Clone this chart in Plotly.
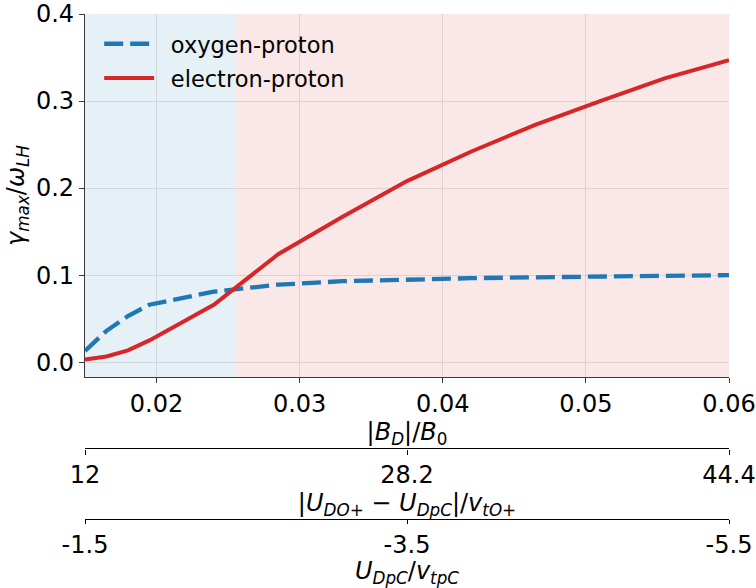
import plotly.graph_objects as go

# ---- data ----
bd_ratio = [0.015, 0.0165, 0.018, 0.0195, 0.024, 0.0285, 0.033, 0.0375,
            0.042, 0.0465, 0.051, 0.0555, 0.06]
oxygen_proton = [0.013, 0.036, 0.053, 0.066, 0.081, 0.089, 0.093, 0.095,
                 0.0965, 0.0975, 0.098, 0.099, 0.100]
electron_proton = [0.003, 0.0065, 0.0135, 0.025, 0.066, 0.124, 0.167, 0.208,
                   0.242, 0.273, 0.300, 0.326, 0.347]
series_names = ["oxygen-proton", "electron-proton"]

x_ticks = [0.02, 0.03, 0.04, 0.05, 0.06]
x_ticklabels = ["0.02", "0.03", "0.04", "0.05", "0.06"]
y_ticks = [0.0, 0.1, 0.2, 0.3, 0.4]
y_ticklabels = ["0.0", "0.1", "0.2", "0.3", "0.4"]

du_ticks = [12, 28.2, 44.4]
du_ticklabels = ["12", "28.2", "44.4"]
udp_ticks = [-1.5, -3.5, -5.5]
udp_ticklabels = ["-1.5", "-3.5", "-5.5"]

x_range = [0.015, 0.06]
y_range = [-0.017, 0.4]
regime_boundary = 0.02555

FONT = "DejaVu Sans"
FS = 24
FS_LEG = 22.5
EPS = 1e-6  # keeps the end ticks inside the ranges
LEG_PAD = "\u00a0\u2009"  # small gap between legend sample and text

fig = go.Figure()

fig.add_trace(go.Scatter(
    x=bd_ratio, y=oxygen_proton, mode="lines", name=LEG_PAD + series_names[0],
    line=dict(color="#1f77b4", width=4.3, dash="19px,7px"),
    legendgroup="a",
))
fig.add_trace(go.Scatter(
    x=bd_ratio, y=electron_proton, mode="lines", name=LEG_PAD + series_names[1],
    line=dict(color="#d62728", width=4),
    legendgroup="b",
))
# carriers for the secondary axes
fig.add_trace(go.Scatter(x=du_ticks, y=[None] * len(du_ticks), xaxis="x2", yaxis="y",
                         mode="lines", showlegend=False, hoverinfo="skip"))
fig.add_trace(go.Scatter(x=udp_ticks, y=[None] * len(udp_ticks), xaxis="x3", yaxis="y",
                         mode="lines", showlegend=False, hoverinfo="skip"))

# shaded regimes
fig.add_shape(type="rect", xref="x", yref="y domain", x0=x_range[0], x1=regime_boundary,
              y0=0, y1=1, fillcolor="rgba(31,119,180,0.11)", line_width=0, layer="below")
fig.add_shape(type="rect", xref="x", yref="y domain", x0=regime_boundary, x1=x_range[1],
              y0=0, y1=1, fillcolor="rgba(214,39,40,0.11)", line_width=0, layer="below")

H = 588
T = 10
PH = H - T


def ypos(px):
    return (H - px) / PH


axis_common = dict(
    showline=True, linecolor="#3a3a3a", linewidth=1.3,
    ticks="outside", ticklen=5, tickwidth=1.3, tickcolor="#3a3a3a",
    tickfont=dict(family=FONT, size=FS, color="black"),
    zeroline=False, ticklabeloverflow="allow",
)

fig.update_layout(
    width=756, height=588,
    margin=dict(l=85, r=26, t=T, b=0),
    paper_bgcolor="white", plot_bgcolor="white",
    font=dict(family=FONT, size=FS, color="black"),
    showlegend=True,
    legend=dict(
        x=0.022, y=0.985, xanchor="left", yanchor="top",
        bgcolor="rgba(0,0,0,0)", borderwidth=0,
        font=dict(family=FONT, size=FS_LEG, color="black"),
        itemwidth=50, tracegroupgap=2, traceorder="grouped",
    ),
    xaxis=dict(
        **axis_common,
        range=[x_range[0], x_range[1] + EPS * 0.01], tickvals=x_ticks, ticktext=x_ticklabels,
        showgrid=True, gridcolor="rgba(120,120,120,0.2)", gridwidth=1,
        anchor="y",
        title=dict(text="|<i>B</i><sub><i>D</i></sub>|/<i>B</i><sub>0</sub>",
                   font=dict(family=FONT, size=FS), standoff=6),
    ),
    yaxis=dict(
        **axis_common,
        range=[y_range[0], y_range[1] + EPS * 0.1], tickvals=y_ticks, ticktext=y_ticklabels,
        showgrid=True, gridcolor="rgba(120,120,120,0.2)", gridwidth=1,
        domain=[ypos(375.5), 1],
        title=dict(text="<i>γ</i><sub><i>max</i></sub>/<i>ω</i><sub><i>LH</i></sub>",
                   font=dict(family=FONT, size=FS), standoff=4),
    ),
    xaxis2=dict(
        showline=True, linecolor="black", linewidth=1.3,
        ticks="outside", ticklen=5, tickwidth=1.3, tickcolor="black",
        tickfont=dict(family=FONT, size=FS, color="black"),
        zeroline=False, showgrid=False, ticklabeloverflow="allow",
        range=[du_ticks[0] - EPS, du_ticks[-1] + EPS], tickvals=du_ticks, ticktext=du_ticklabels,
        overlaying="x", anchor="free", position=ypos(447.5), side="bottom",
        title=dict(text="|<i>U</i><sub><i>DO</i>+</sub> − <i>U</i><sub><i>DpC</i></sub>|/<i>v</i><sub><i>tO</i>+</sub>",
                   font=dict(family=FONT, size=FS), standoff=2),
    ),
    xaxis3=dict(
        showline=True, linecolor="black", linewidth=1.3,
        ticks="outside", ticklen=4, tickwidth=1.3, tickcolor="black",
        tickfont=dict(family=FONT, size=FS, color="black"),
        zeroline=False, showgrid=False, ticklabeloverflow="allow",
        range=[udp_ticks[0] + EPS, udp_ticks[-1] - EPS], tickvals=udp_ticks, ticktext=udp_ticklabels,
        overlaying="x", anchor="free", position=ypos(518.5), side="bottom",
        title=dict(text="<i>U</i><sub><i>DpC</i></sub>/<i>v</i><sub><i>tpC</i></sub>",
                   font=dict(family=FONT, size=FS), standoff=7),
    ),
)

fig.write_html("out.html", config={"displayModeBar": False},
               post_script="document.body.style.margin='0';")
